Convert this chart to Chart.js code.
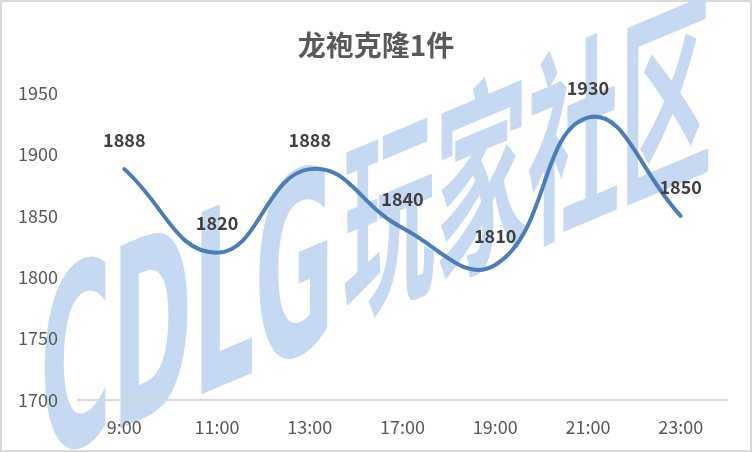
<!DOCTYPE html>
<html>
<head>
<meta charset="utf-8">
<script src="https://cdn.jsdelivr.net/npm/chart.js@4.4.1/dist/chart.umd.min.js"></script>
<style>
  html, body { margin: 0; padding: 0; background: #fff; }
  #wrap { width: 752px; height: 452px; position: relative; }
</style>
</head>
<body>
<div id="wrap"><canvas id="priceChart" width="752" height="452"></canvas></div>
<script>
// 数据
const chartTitle = '龙袍克隆1件';
const timeLabels = ['9:00', '11:00', '13:00', '17:00', '19:00', '21:00', '23:00'];
const priceValues = [1888, 1820, 1888, 1840, 1810, 1930, 1850];
const yTicks = [1700, 1750, 1800, 1850, 1900, 1950];

const textColor = '#595959';
const lineColor = '#4a7dba';
const cjkFont = '"Noto Sans CJK SC", "Noto Sans", sans-serif';

// 背景、边框、水印、标题
const decorPlugin = {
    id: 'decor',
    beforeDraw(chart) {
        const c = chart.ctx;
        c.save();
        c.fillStyle = '#fff';
        c.fillRect(0, 0, chart.width, chart.height);
        c.strokeStyle = '#d9d9d9';
        c.lineWidth = 2;
        c.strokeRect(1, 1, chart.width - 2, chart.height - 2);

        // 水印
        c.fillStyle = '#c6d9f3';
        c.translate(40, 462);
        c.transform(1, -0.42, 0, 1, 0, 0);
        c.textBaseline = 'alphabetic';
        c.save();
        c.scale(0.39, 1);
        c.font = 'bold 250px "DejaVu Sans", sans-serif';
        c.fillText('CDLG', 0, 0);
        c.restore();
        c.save();
        c.translate(303, -22);
        c.scale(0.45, 1);
        c.font = 'bold 205px ' + cjkFont;
        c.fillText('玩家社区', 0, 0);
        c.restore();
        c.restore();

        c.save();
        c.fillStyle = textColor;
        c.font = 'bold 28px ' + cjkFont;
        c.textAlign = 'center';
        c.textBaseline = 'middle';
        c.fillText(chartTitle, 376, 45);
        c.restore();
    },
    afterDatasetsDraw(chart) {
        const c = chart.ctx;
        const meta = chart.getDatasetMeta(0);
        c.save();
        c.fillStyle = '#404040';
        c.font = 'bold 18px ' + cjkFont;
        c.textAlign = 'center';
        c.textBaseline = 'middle';
        meta.data.forEach((pt, i) => {
            c.fillText(String(priceValues[i]), pt.x, pt.y - 29);
        });
        c.restore();
    }
};

new Chart(document.getElementById('priceChart'), {
    type: 'line',
    data: {
        labels: timeLabels,
        datasets: [{
            data: priceValues,
            borderColor: lineColor,
            borderWidth: 4,
            borderCapStyle: 'round',
            tension: 0.45,
            pointRadius: 0,
            fill: false
        }]
    },
    options: {
        responsive: false,
        animation: false,
        layout: { padding: { top: 93, right: 25, left: 0, bottom: 0 } },
        plugins: {
            legend: { display: false },
            title: { display: false },
            tooltip: { enabled: false }
        },
        scales: {
            x: {
                offset: true,
                grid: { display: false, drawTicks: false },
                border: { display: true, color: '#d9d9d9', width: 2 },
                ticks: {
                    color: textColor,
                    padding: 16,
                    maxRotation: 0,
                    font: { family: cjkFont, size: 18 }
                },
                afterFit(scale) { scale.height = 52; }
            },
            y: {
                min: 1700,
                max: 1950,
                afterBuildTicks(scale) {
                    scale.ticks = yTicks.map(v => ({ value: v }));
                },
                grid: { display: false, drawTicks: false },
                border: { display: false },
                ticks: {
                    color: textColor,
                    padding: 20,
                    font: { family: cjkFont, size: 18 },
                    callback: v => String(v)
                },
                afterFit(scale) { scale.width = 78; }
            }
        }
    },
    plugins: [decorPlugin]
});
</script>
</body>
</html>
